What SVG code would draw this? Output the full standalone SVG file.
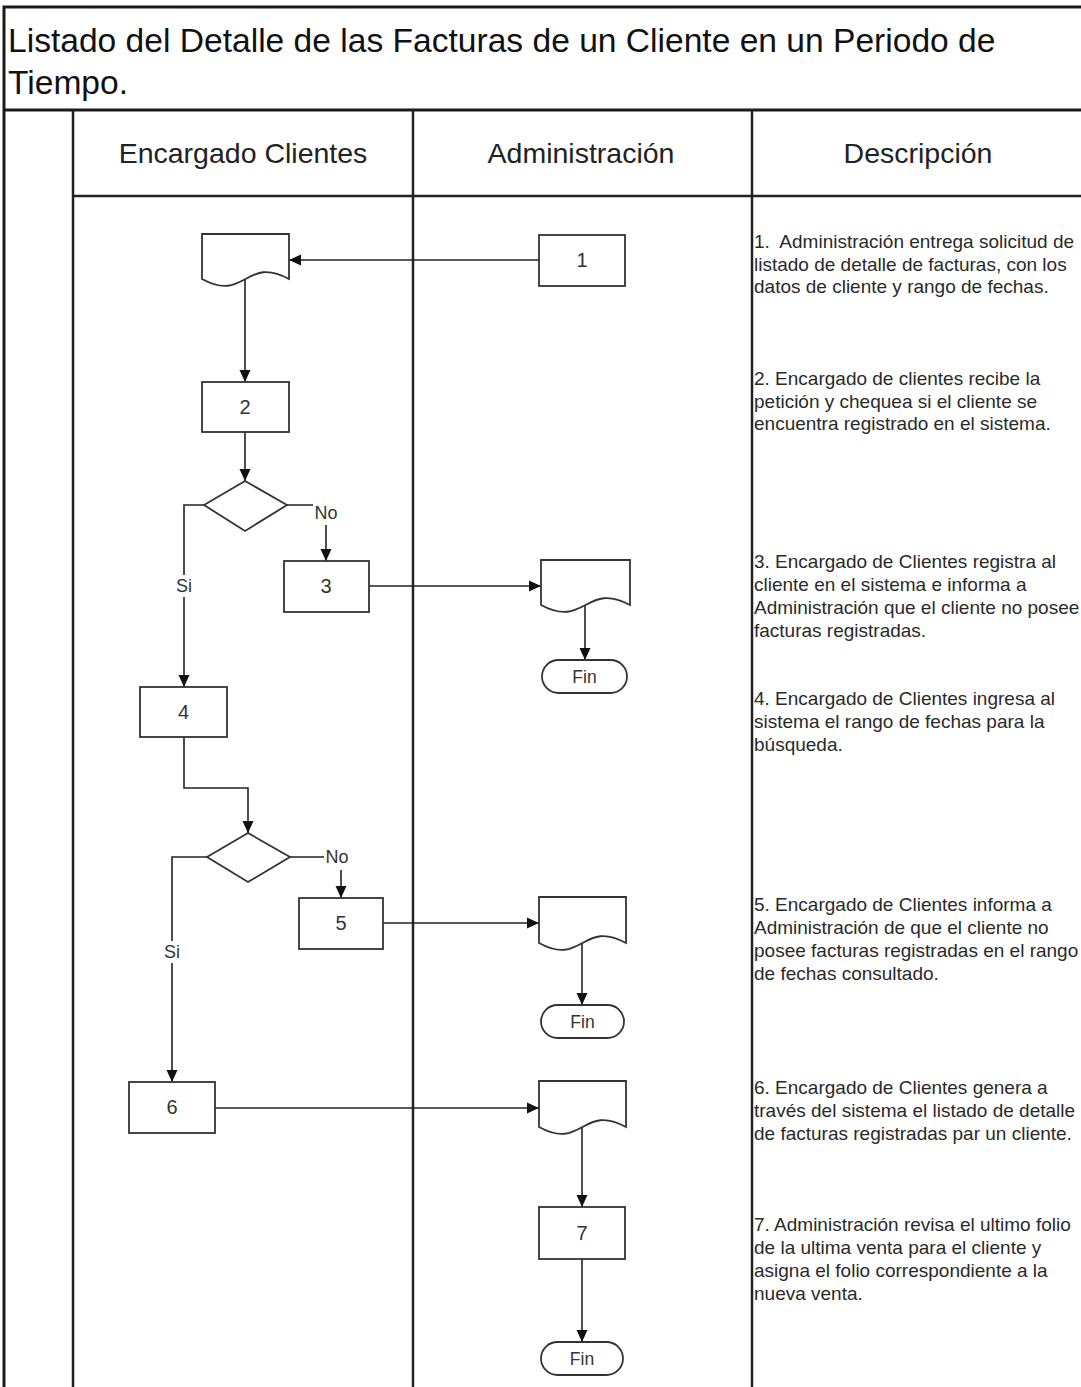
<svg xmlns="http://www.w3.org/2000/svg" width="1081" height="1387" viewBox="0 0 1081 1387">
  <style>
    .frame { fill: none; stroke: #1a1a1a; stroke-width: 3; }
    .lane { fill: none; stroke: #222; stroke-width: 2.5; }
    .shape { fill: #fff; stroke: #333; stroke-width: 1.8; }
    .conn { fill: none; stroke: #222; stroke-width: 1.6; }
    .title { font-family: "Liberation Sans", Arial, sans-serif; font-size: 33.6px; fill: #111; }
    .head { font-family: "Liberation Sans", Arial, sans-serif; font-size: 28.5px; fill: #222; text-anchor: middle; }
    .lbl { font-family: "Liberation Sans", Arial, sans-serif; font-size: 20px; fill: #333; text-anchor: middle; dominant-baseline: central; }
    .fin { font-family: "Liberation Sans", Arial, sans-serif; font-size: 17.5px; fill: #333; text-anchor: middle; dominant-baseline: central; }
    .cond { font-family: "Liberation Sans", Arial, sans-serif; font-size: 18px; fill: #333; text-anchor: middle; dominant-baseline: central; }
    .desc { font-family: "Liberation Sans", Arial, sans-serif; font-size: 19px; fill: #2a2a2a; white-space: pre; }
  </style>
  <defs>
    <marker id="arrow" markerUnits="userSpaceOnUse" markerWidth="14" markerHeight="14" refX="12" refY="6.5" orient="auto">
      <path d="M0,1 L12,6.5 L0,12 Z" fill="#111"/>
    </marker>
  </defs>

  <rect width="1081" height="1387" fill="#fff"/>

  <!-- page frame, title and swimlanes -->
  <g id="frame">
    <path class="frame" d="M4,1387 V7 H1081"/>
    <line class="frame" x1="4" y1="110" x2="1081" y2="110"/>
    <line class="lane" x1="73" y1="110" x2="73" y2="1387"/>
    <line class="lane" x1="413" y1="110" x2="413" y2="1387"/>
    <line class="lane" x1="752" y1="110" x2="752" y2="1387"/>
    <line class="lane" x1="73" y1="196" x2="1081" y2="196" stroke-width="2"/>
    <text class="title" x="8" y="52">Listado del Detalle de las Facturas de un Cliente en un Periodo de</text>
    <text class="title" x="8" y="94">Tiempo.</text>
    <text class="head" x="243" y="163">Encargado Clientes</text>
    <text class="head" x="581" y="163">Administración</text>
    <text class="head" x="918" y="163">Descripción</text>
  </g>

  <!-- connectors -->
  <g id="connectors">
    <line class="conn" x1="539" y1="260" x2="289" y2="260" marker-end="url(#arrow)"/>
    <line class="conn" x1="245" y1="279" x2="245" y2="382" marker-end="url(#arrow)"/>
    <line class="conn" x1="245" y1="432" x2="245" y2="481" marker-end="url(#arrow)"/>
    <path class="conn" d="M287,505 H326 V561" marker-end="url(#arrow)"/>
    <path class="conn" d="M204,505 H184 V687" marker-end="url(#arrow)"/>
    <line class="conn" x1="369" y1="586" x2="541" y2="586" marker-end="url(#arrow)"/>
    <line class="conn" x1="585" y1="605" x2="585" y2="660" marker-end="url(#arrow)"/>
    <path class="conn" d="M184,737 V788 H248 V833" marker-end="url(#arrow)"/>
    <path class="conn" d="M290,857 H341 V898" marker-end="url(#arrow)"/>
    <path class="conn" d="M207,857 H172 V1082" marker-end="url(#arrow)"/>
    <line class="conn" x1="383" y1="923" x2="539" y2="923" marker-end="url(#arrow)"/>
    <line class="conn" x1="582" y1="943" x2="582" y2="1005" marker-end="url(#arrow)"/>
    <line class="conn" x1="215" y1="1108" x2="539" y2="1108" marker-end="url(#arrow)"/>
    <line class="conn" x1="582" y1="1127" x2="582" y2="1207" marker-end="url(#arrow)"/>
    <line class="conn" x1="582" y1="1259" x2="582" y2="1342" marker-end="url(#arrow)"/>
    <!-- branch labels -->
    <rect x="313" y="501" width="26" height="24" fill="#fff"/>
    <text class="cond" x="326" y="513">No</text>
    <rect x="173" y="575" width="22" height="22" fill="#fff"/>
    <text class="cond" x="184" y="586">Si</text>
    <rect x="324" y="846" width="26" height="24" fill="#fff"/>
    <text class="cond" x="337" y="857">No</text>
    <rect x="161" y="941" width="22" height="22" fill="#fff"/>
    <text class="cond" x="172" y="952">Si</text>
  </g>

  <!-- flow nodes -->
  <g id="doc-solicitud">
    <path class="shape" d="M202,234 H289 V279 C245.5,255 245.5,303 202,279 Z"/>
  </g>
  <g id="step-1">
    <rect class="shape" x="539" y="235" width="86" height="51"/>
    <text class="lbl" x="582" y="260">1</text>
  </g>
  <g id="step-2">
    <rect class="shape" x="202" y="382" width="87" height="50"/>
    <text class="lbl" x="245" y="407">2</text>
  </g>
  <g id="decision-1">
    <path class="shape" d="M245,481 L287,505 L245,531 L204,505 Z"/>
  </g>
  <g id="step-3">
    <rect class="shape" x="284" y="561" width="85" height="51"/>
    <text class="lbl" x="326" y="586">3</text>
  </g>
  <g id="doc-aviso-1">
    <path class="shape" d="M541,560 H630 V605 C585.5,581 585.5,629 541,605 Z"/>
  </g>
  <g id="fin-1">
    <rect class="shape" x="542" y="660" width="85" height="33" rx="16.5"/>
    <text class="fin" x="584.5" y="676.5">Fin</text>
  </g>
  <g id="step-4">
    <rect class="shape" x="140" y="687" width="87" height="50"/>
    <text class="lbl" x="183.5" y="712">4</text>
  </g>
  <g id="decision-2">
    <path class="shape" d="M248,833 L290,857 L248,882 L207,857 Z"/>
  </g>
  <g id="step-5">
    <rect class="shape" x="299" y="898" width="84" height="51"/>
    <text class="lbl" x="341" y="923">5</text>
  </g>
  <g id="doc-aviso-2">
    <path class="shape" d="M539,897 H626 V943 C582.5,919 582.5,967 539,943 Z"/>
  </g>
  <g id="fin-2">
    <rect class="shape" x="541" y="1005" width="83" height="33" rx="16.5"/>
    <text class="fin" x="582.5" y="1021.5">Fin</text>
  </g>
  <g id="step-6">
    <rect class="shape" x="129" y="1082" width="86" height="51"/>
    <text class="lbl" x="172" y="1107">6</text>
  </g>
  <g id="doc-listado">
    <path class="shape" d="M539,1081 H626 V1127 C582.5,1103 582.5,1151 539,1127 Z"/>
  </g>
  <g id="step-7">
    <rect class="shape" x="539" y="1207" width="86" height="52"/>
    <text class="lbl" x="582" y="1233">7</text>
  </g>
  <g id="fin-3">
    <rect class="shape" x="541" y="1342" width="82" height="33" rx="16.5"/>
    <text class="fin" x="582" y="1358.5">Fin</text>
  </g>

  <!-- step descriptions -->
  <g id="descriptions">
    <text class="desc" x="754" y="248">1.  Administración entrega solicitud de</text>
    <text class="desc" x="754" y="271">listado de detalle de facturas, con los</text>
    <text class="desc" x="754" y="293">datos de cliente y rango de fechas.</text>

    <text class="desc" x="754" y="385">2. Encargado de clientes recibe la</text>
    <text class="desc" x="754" y="408">petición y chequea si el cliente se</text>
    <text class="desc" x="754" y="430">encuentra registrado en el sistema.</text>

    <text class="desc" x="754" y="568">3. Encargado de Clientes registra al</text>
    <text class="desc" x="754" y="591">cliente en el sistema e informa a</text>
    <text class="desc" x="754" y="614">Administración que el cliente no posee</text>
    <text class="desc" x="754" y="637">facturas registradas.</text>

    <text class="desc" x="754" y="705">4. Encargado de Clientes ingresa al</text>
    <text class="desc" x="754" y="728">sistema el rango de fechas para la</text>
    <text class="desc" x="754" y="751">búsqueda.</text>

    <text class="desc" x="754" y="911">5. Encargado de Clientes informa a</text>
    <text class="desc" x="754" y="934">Administración de que el cliente no</text>
    <text class="desc" x="754" y="957">posee facturas registradas en el rango</text>
    <text class="desc" x="754" y="980">de fechas consultado.</text>

    <text class="desc" x="754" y="1094">6. Encargado de Clientes genera a</text>
    <text class="desc" x="754" y="1117">través del sistema el listado de detalle</text>
    <text class="desc" x="754" y="1140">de facturas registradas par un cliente.</text>

    <text class="desc" x="754" y="1231">7. Administración revisa el ultimo folio</text>
    <text class="desc" x="754" y="1254">de la ultima venta para el cliente y</text>
    <text class="desc" x="754" y="1277">asigna el folio correspondiente a la</text>
    <text class="desc" x="754" y="1300">nueva venta.</text>
  </g>
</svg>
